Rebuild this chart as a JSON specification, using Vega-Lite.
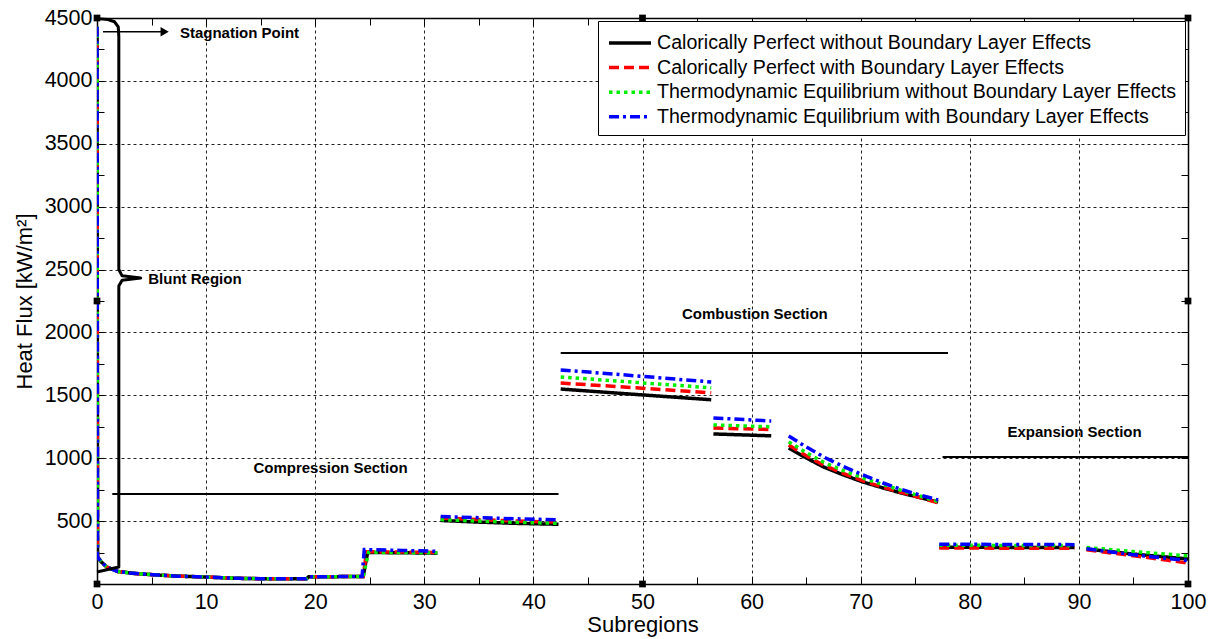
{
  "$schema": "https://vega.github.io/schema/vega-lite/v6.json",
  "width": 1091,
  "height": 566,
  "autosize": {"type": "none"},
  "padding": {"left": 97, "top": 18, "right": 27, "bottom": 55},
  "background": "white",
  "config": {
    "font": "Liberation Sans",
    "view": {"stroke": null},
    "axis": {
      "domainColor": "black",
      "domainWidth": 1.5,
      "tickColor": "black",
      "tickWidth": 1,
      "tickSize": -7,
      "labelColor": "black",
      "labelFontSize": 21.5,
      "labelFont": "Liberation Sans",
      "labelFlush": false,
      "labelOverlap": false,
      "titleColor": "black",
      "titleFontSize": 22,
      "titleFontWeight": "normal",
      "titleFont": "Liberation Sans",
      "gridColor": "#222222",
      "gridDash": [3, 3],
      "gridWidth": 1
    },
    "legend": {
      "title": null, "orient": "top-right", "offset": 3,
      "fillColor": "white", "strokeColor": "black", "padding": 8,
      "labelFontSize": 19.6, "labelFont": "Liberation Sans", "labelColor": "black",
      "labelLimit": 0, "labelOffset": 13,
      "symbolType": "M-1.75,0H1.75", "symbolSize": 576, "symbolStrokeWidth": 3.5,
      "symbolOffset": 10,
      "rowPadding": 0.6
    }
  },
  "datasets": {
    "flux": [
      {"series": "Calorically Perfect without Boundary Layer Effects", "seg": "A", "x": 0, "y": 4430},
      {"series": "Calorically Perfect without Boundary Layer Effects", "seg": "A", "x": 0.05, "y": 215},
      {"series": "Calorically Perfect without Boundary Layer Effects", "seg": "A", "x": 0.4, "y": 175},
      {"series": "Calorically Perfect without Boundary Layer Effects", "seg": "A", "x": 0.9, "y": 135},
      {"series": "Calorically Perfect without Boundary Layer Effects", "seg": "A", "x": 1.9, "y": 100},
      {"series": "Calorically Perfect without Boundary Layer Effects", "seg": "A", "x": 3, "y": 88},
      {"series": "Calorically Perfect without Boundary Layer Effects", "seg": "A", "x": 4, "y": 80},
      {"series": "Calorically Perfect without Boundary Layer Effects", "seg": "A", "x": 5.5, "y": 72},
      {"series": "Calorically Perfect without Boundary Layer Effects", "seg": "A", "x": 7, "y": 64},
      {"series": "Calorically Perfect without Boundary Layer Effects", "seg": "A", "x": 10, "y": 55},
      {"series": "Calorically Perfect without Boundary Layer Effects", "seg": "A", "x": 13, "y": 45},
      {"series": "Calorically Perfect without Boundary Layer Effects", "seg": "A", "x": 15, "y": 42},
      {"series": "Calorically Perfect without Boundary Layer Effects", "seg": "A", "x": 19.2, "y": 42},
      {"series": "Calorically Perfect without Boundary Layer Effects", "seg": "A", "x": 19.4, "y": 57},
      {"series": "Calorically Perfect without Boundary Layer Effects", "seg": "A", "x": 24.4, "y": 60},
      {"series": "Calorically Perfect without Boundary Layer Effects", "seg": "A", "x": 24.8, "y": 250},
      {"series": "Calorically Perfect without Boundary Layer Effects", "seg": "A", "x": 28, "y": 249},
      {"series": "Calorically Perfect without Boundary Layer Effects", "seg": "A", "x": 31.2, "y": 245},
      {"series": "Calorically Perfect without Boundary Layer Effects", "seg": "B", "x": 31.5, "y": 505},
      {"series": "Calorically Perfect without Boundary Layer Effects", "seg": "B", "x": 35, "y": 492},
      {"series": "Calorically Perfect without Boundary Layer Effects", "seg": "B", "x": 38.5, "y": 482},
      {"series": "Calorically Perfect without Boundary Layer Effects", "seg": "B", "x": 42.3, "y": 475},
      {"series": "Calorically Perfect without Boundary Layer Effects", "seg": "C", "x": 42.5, "y": 1550},
      {"series": "Calorically Perfect without Boundary Layer Effects", "seg": "C", "x": 49.4, "y": 1507},
      {"series": "Calorically Perfect without Boundary Layer Effects", "seg": "C", "x": 56.3, "y": 1465},
      {"series": "Calorically Perfect without Boundary Layer Effects", "seg": "D", "x": 56.5, "y": 1193},
      {"series": "Calorically Perfect without Boundary Layer Effects", "seg": "D", "x": 61.8, "y": 1178},
      {"series": "Calorically Perfect without Boundary Layer Effects", "seg": "E", "x": 63.4, "y": 1081},
      {"series": "Calorically Perfect without Boundary Layer Effects", "seg": "E", "x": 65, "y": 1003},
      {"series": "Calorically Perfect without Boundary Layer Effects", "seg": "E", "x": 66.6, "y": 930},
      {"series": "Calorically Perfect without Boundary Layer Effects", "seg": "E", "x": 68.4, "y": 868},
      {"series": "Calorically Perfect without Boundary Layer Effects", "seg": "E", "x": 70.2, "y": 811},
      {"series": "Calorically Perfect without Boundary Layer Effects", "seg": "E", "x": 72, "y": 765},
      {"series": "Calorically Perfect without Boundary Layer Effects", "seg": "E", "x": 73.7, "y": 724},
      {"series": "Calorically Perfect without Boundary Layer Effects", "seg": "E", "x": 75.4, "y": 688},
      {"series": "Calorically Perfect without Boundary Layer Effects", "seg": "E", "x": 77.1, "y": 652},
      {"series": "Calorically Perfect without Boundary Layer Effects", "seg": "F", "x": 77.2, "y": 292},
      {"series": "Calorically Perfect without Boundary Layer Effects", "seg": "F", "x": 89.6, "y": 290},
      {"series": "Calorically Perfect without Boundary Layer Effects", "seg": "G", "x": 90.7, "y": 278},
      {"series": "Calorically Perfect without Boundary Layer Effects", "seg": "G", "x": 95, "y": 238},
      {"series": "Calorically Perfect without Boundary Layer Effects", "seg": "G", "x": 100, "y": 199},

      {"series": "Calorically Perfect with Boundary Layer Effects", "seg": "A", "x": 0, "y": 4430},
      {"series": "Calorically Perfect with Boundary Layer Effects", "seg": "A", "x": 0.05, "y": 215},
      {"series": "Calorically Perfect with Boundary Layer Effects", "seg": "A", "x": 0.4, "y": 175},
      {"series": "Calorically Perfect with Boundary Layer Effects", "seg": "A", "x": 0.9, "y": 135},
      {"series": "Calorically Perfect with Boundary Layer Effects", "seg": "A", "x": 1.9, "y": 100},
      {"series": "Calorically Perfect with Boundary Layer Effects", "seg": "A", "x": 3, "y": 88},
      {"series": "Calorically Perfect with Boundary Layer Effects", "seg": "A", "x": 4, "y": 80},
      {"series": "Calorically Perfect with Boundary Layer Effects", "seg": "A", "x": 5.5, "y": 72},
      {"series": "Calorically Perfect with Boundary Layer Effects", "seg": "A", "x": 7, "y": 64},
      {"series": "Calorically Perfect with Boundary Layer Effects", "seg": "A", "x": 10, "y": 55},
      {"series": "Calorically Perfect with Boundary Layer Effects", "seg": "A", "x": 13, "y": 45},
      {"series": "Calorically Perfect with Boundary Layer Effects", "seg": "A", "x": 15, "y": 42},
      {"series": "Calorically Perfect with Boundary Layer Effects", "seg": "A", "x": 19.2, "y": 42},
      {"series": "Calorically Perfect with Boundary Layer Effects", "seg": "A", "x": 19.4, "y": 57},
      {"series": "Calorically Perfect with Boundary Layer Effects", "seg": "A", "x": 24.4, "y": 60},
      {"series": "Calorically Perfect with Boundary Layer Effects", "seg": "A", "x": 24.7, "y": 256},
      {"series": "Calorically Perfect with Boundary Layer Effects", "seg": "A", "x": 28, "y": 254},
      {"series": "Calorically Perfect with Boundary Layer Effects", "seg": "A", "x": 31.2, "y": 250},
      {"series": "Calorically Perfect with Boundary Layer Effects", "seg": "B", "x": 31.5, "y": 525},
      {"series": "Calorically Perfect with Boundary Layer Effects", "seg": "B", "x": 35, "y": 512},
      {"series": "Calorically Perfect with Boundary Layer Effects", "seg": "B", "x": 38.5, "y": 500},
      {"series": "Calorically Perfect with Boundary Layer Effects", "seg": "B", "x": 42.3, "y": 492},
      {"series": "Calorically Perfect with Boundary Layer Effects", "seg": "C", "x": 42.5, "y": 1598},
      {"series": "Calorically Perfect with Boundary Layer Effects", "seg": "C", "x": 49.4, "y": 1560},
      {"series": "Calorically Perfect with Boundary Layer Effects", "seg": "C", "x": 56.3, "y": 1520},
      {"series": "Calorically Perfect with Boundary Layer Effects", "seg": "D", "x": 56.5, "y": 1240},
      {"series": "Calorically Perfect with Boundary Layer Effects", "seg": "D", "x": 61.8, "y": 1228},
      {"series": "Calorically Perfect with Boundary Layer Effects", "seg": "E", "x": 63.4, "y": 1105},
      {"series": "Calorically Perfect with Boundary Layer Effects", "seg": "E", "x": 65, "y": 1020},
      {"series": "Calorically Perfect with Boundary Layer Effects", "seg": "E", "x": 66.6, "y": 945},
      {"series": "Calorically Perfect with Boundary Layer Effects", "seg": "E", "x": 68.4, "y": 880},
      {"series": "Calorically Perfect with Boundary Layer Effects", "seg": "E", "x": 70.2, "y": 820},
      {"series": "Calorically Perfect with Boundary Layer Effects", "seg": "E", "x": 72, "y": 770},
      {"series": "Calorically Perfect with Boundary Layer Effects", "seg": "E", "x": 73.7, "y": 728},
      {"series": "Calorically Perfect with Boundary Layer Effects", "seg": "E", "x": 75.4, "y": 688},
      {"series": "Calorically Perfect with Boundary Layer Effects", "seg": "E", "x": 77.1, "y": 646},
      {"series": "Calorically Perfect with Boundary Layer Effects", "seg": "F", "x": 77.2, "y": 286},
      {"series": "Calorically Perfect with Boundary Layer Effects", "seg": "F", "x": 89.6, "y": 284},
      {"series": "Calorically Perfect with Boundary Layer Effects", "seg": "G", "x": 90.7, "y": 272},
      {"series": "Calorically Perfect with Boundary Layer Effects", "seg": "G", "x": 95, "y": 225},
      {"series": "Calorically Perfect with Boundary Layer Effects", "seg": "G", "x": 100, "y": 167},

      {"series": "Thermodynamic Equilibrium without Boundary Layer Effects", "seg": "A", "x": 0, "y": 4430},
      {"series": "Thermodynamic Equilibrium without Boundary Layer Effects", "seg": "A", "x": 0.05, "y": 215},
      {"series": "Thermodynamic Equilibrium without Boundary Layer Effects", "seg": "A", "x": 0.4, "y": 175},
      {"series": "Thermodynamic Equilibrium without Boundary Layer Effects", "seg": "A", "x": 0.9, "y": 135},
      {"series": "Thermodynamic Equilibrium without Boundary Layer Effects", "seg": "A", "x": 1.9, "y": 100},
      {"series": "Thermodynamic Equilibrium without Boundary Layer Effects", "seg": "A", "x": 3, "y": 88},
      {"series": "Thermodynamic Equilibrium without Boundary Layer Effects", "seg": "A", "x": 4, "y": 80},
      {"series": "Thermodynamic Equilibrium without Boundary Layer Effects", "seg": "A", "x": 5.5, "y": 72},
      {"series": "Thermodynamic Equilibrium without Boundary Layer Effects", "seg": "A", "x": 7, "y": 64},
      {"series": "Thermodynamic Equilibrium without Boundary Layer Effects", "seg": "A", "x": 10, "y": 55},
      {"series": "Thermodynamic Equilibrium without Boundary Layer Effects", "seg": "A", "x": 13, "y": 45},
      {"series": "Thermodynamic Equilibrium without Boundary Layer Effects", "seg": "A", "x": 15, "y": 42},
      {"series": "Thermodynamic Equilibrium without Boundary Layer Effects", "seg": "A", "x": 19.2, "y": 42},
      {"series": "Thermodynamic Equilibrium without Boundary Layer Effects", "seg": "A", "x": 19.4, "y": 57},
      {"series": "Thermodynamic Equilibrium without Boundary Layer Effects", "seg": "A", "x": 24.4, "y": 60},
      {"series": "Thermodynamic Equilibrium without Boundary Layer Effects", "seg": "A", "x": 24.9, "y": 252},
      {"series": "Thermodynamic Equilibrium without Boundary Layer Effects", "seg": "A", "x": 28, "y": 250},
      {"series": "Thermodynamic Equilibrium without Boundary Layer Effects", "seg": "A", "x": 31.2, "y": 248},
      {"series": "Thermodynamic Equilibrium without Boundary Layer Effects", "seg": "B", "x": 31.5, "y": 512},
      {"series": "Thermodynamic Equilibrium without Boundary Layer Effects", "seg": "B", "x": 35, "y": 500},
      {"series": "Thermodynamic Equilibrium without Boundary Layer Effects", "seg": "B", "x": 38.5, "y": 490},
      {"series": "Thermodynamic Equilibrium without Boundary Layer Effects", "seg": "B", "x": 42.3, "y": 483},
      {"series": "Thermodynamic Equilibrium without Boundary Layer Effects", "seg": "C", "x": 42.5, "y": 1646},
      {"series": "Thermodynamic Equilibrium without Boundary Layer Effects", "seg": "C", "x": 49.4, "y": 1603},
      {"series": "Thermodynamic Equilibrium without Boundary Layer Effects", "seg": "C", "x": 56.3, "y": 1560},
      {"series": "Thermodynamic Equilibrium without Boundary Layer Effects", "seg": "D", "x": 56.5, "y": 1264},
      {"series": "Thermodynamic Equilibrium without Boundary Layer Effects", "seg": "D", "x": 61.8, "y": 1250},
      {"series": "Thermodynamic Equilibrium without Boundary Layer Effects", "seg": "E", "x": 63.4, "y": 1130},
      {"series": "Thermodynamic Equilibrium without Boundary Layer Effects", "seg": "E", "x": 65, "y": 1045},
      {"series": "Thermodynamic Equilibrium without Boundary Layer Effects", "seg": "E", "x": 66.6, "y": 968},
      {"series": "Thermodynamic Equilibrium without Boundary Layer Effects", "seg": "E", "x": 68.4, "y": 902},
      {"series": "Thermodynamic Equilibrium without Boundary Layer Effects", "seg": "E", "x": 70.2, "y": 843},
      {"series": "Thermodynamic Equilibrium without Boundary Layer Effects", "seg": "E", "x": 72, "y": 792},
      {"series": "Thermodynamic Equilibrium without Boundary Layer Effects", "seg": "E", "x": 73.7, "y": 745},
      {"series": "Thermodynamic Equilibrium without Boundary Layer Effects", "seg": "E", "x": 75.4, "y": 700},
      {"series": "Thermodynamic Equilibrium without Boundary Layer Effects", "seg": "E", "x": 77.1, "y": 655},
      {"series": "Thermodynamic Equilibrium without Boundary Layer Effects", "seg": "F", "x": 77.2, "y": 308},
      {"series": "Thermodynamic Equilibrium without Boundary Layer Effects", "seg": "F", "x": 89.6, "y": 305},
      {"series": "Thermodynamic Equilibrium without Boundary Layer Effects", "seg": "G", "x": 90.7, "y": 290},
      {"series": "Thermodynamic Equilibrium without Boundary Layer Effects", "seg": "G", "x": 95, "y": 258},
      {"series": "Thermodynamic Equilibrium without Boundary Layer Effects", "seg": "G", "x": 100, "y": 224},

      {"series": "Thermodynamic Equilibrium with Boundary Layer Effects", "seg": "A", "x": 0, "y": 4430},
      {"series": "Thermodynamic Equilibrium with Boundary Layer Effects", "seg": "A", "x": 0.05, "y": 215},
      {"series": "Thermodynamic Equilibrium with Boundary Layer Effects", "seg": "A", "x": 0.4, "y": 175},
      {"series": "Thermodynamic Equilibrium with Boundary Layer Effects", "seg": "A", "x": 0.9, "y": 135},
      {"series": "Thermodynamic Equilibrium with Boundary Layer Effects", "seg": "A", "x": 1.9, "y": 100},
      {"series": "Thermodynamic Equilibrium with Boundary Layer Effects", "seg": "A", "x": 3, "y": 88},
      {"series": "Thermodynamic Equilibrium with Boundary Layer Effects", "seg": "A", "x": 4, "y": 80},
      {"series": "Thermodynamic Equilibrium with Boundary Layer Effects", "seg": "A", "x": 5.5, "y": 72},
      {"series": "Thermodynamic Equilibrium with Boundary Layer Effects", "seg": "A", "x": 7, "y": 64},
      {"series": "Thermodynamic Equilibrium with Boundary Layer Effects", "seg": "A", "x": 10, "y": 55},
      {"series": "Thermodynamic Equilibrium with Boundary Layer Effects", "seg": "A", "x": 13, "y": 45},
      {"series": "Thermodynamic Equilibrium with Boundary Layer Effects", "seg": "A", "x": 15, "y": 42},
      {"series": "Thermodynamic Equilibrium with Boundary Layer Effects", "seg": "A", "x": 19.2, "y": 42},
      {"series": "Thermodynamic Equilibrium with Boundary Layer Effects", "seg": "A", "x": 19.4, "y": 57},
      {"series": "Thermodynamic Equilibrium with Boundary Layer Effects", "seg": "A", "x": 24.3, "y": 60},
      {"series": "Thermodynamic Equilibrium with Boundary Layer Effects", "seg": "A", "x": 24.5, "y": 274},
      {"series": "Thermodynamic Equilibrium with Boundary Layer Effects", "seg": "A", "x": 28, "y": 267},
      {"series": "Thermodynamic Equilibrium with Boundary Layer Effects", "seg": "A", "x": 31.2, "y": 260},
      {"series": "Thermodynamic Equilibrium with Boundary Layer Effects", "seg": "B", "x": 31.5, "y": 537},
      {"series": "Thermodynamic Equilibrium with Boundary Layer Effects", "seg": "B", "x": 35, "y": 527},
      {"series": "Thermodynamic Equilibrium with Boundary Layer Effects", "seg": "B", "x": 38.5, "y": 518},
      {"series": "Thermodynamic Equilibrium with Boundary Layer Effects", "seg": "B", "x": 42.3, "y": 510},
      {"series": "Thermodynamic Equilibrium with Boundary Layer Effects", "seg": "C", "x": 42.5, "y": 1702},
      {"series": "Thermodynamic Equilibrium with Boundary Layer Effects", "seg": "C", "x": 49.4, "y": 1655},
      {"series": "Thermodynamic Equilibrium with Boundary Layer Effects", "seg": "C", "x": 56.3, "y": 1606},
      {"series": "Thermodynamic Equilibrium with Boundary Layer Effects", "seg": "D", "x": 56.5, "y": 1320},
      {"series": "Thermodynamic Equilibrium with Boundary Layer Effects", "seg": "D", "x": 61.8, "y": 1296},
      {"series": "Thermodynamic Equilibrium with Boundary Layer Effects", "seg": "E", "x": 63.4, "y": 1177},
      {"series": "Thermodynamic Equilibrium with Boundary Layer Effects", "seg": "E", "x": 65, "y": 1090},
      {"series": "Thermodynamic Equilibrium with Boundary Layer Effects", "seg": "E", "x": 66.6, "y": 1010},
      {"series": "Thermodynamic Equilibrium with Boundary Layer Effects", "seg": "E", "x": 68.4, "y": 935},
      {"series": "Thermodynamic Equilibrium with Boundary Layer Effects", "seg": "E", "x": 70.2, "y": 867},
      {"series": "Thermodynamic Equilibrium with Boundary Layer Effects", "seg": "E", "x": 72, "y": 805},
      {"series": "Thermodynamic Equilibrium with Boundary Layer Effects", "seg": "E", "x": 73.7, "y": 752},
      {"series": "Thermodynamic Equilibrium with Boundary Layer Effects", "seg": "E", "x": 75.4, "y": 708},
      {"series": "Thermodynamic Equilibrium with Boundary Layer Effects", "seg": "E", "x": 77.1, "y": 668},
      {"series": "Thermodynamic Equilibrium with Boundary Layer Effects", "seg": "F", "x": 77.2, "y": 316},
      {"series": "Thermodynamic Equilibrium with Boundary Layer Effects", "seg": "F", "x": 89.6, "y": 313},
      {"series": "Thermodynamic Equilibrium with Boundary Layer Effects", "seg": "G", "x": 90.7, "y": 280},
      {"series": "Thermodynamic Equilibrium with Boundary Layer Effects", "seg": "G", "x": 95, "y": 232},
      {"series": "Thermodynamic Equilibrium with Boundary Layer Effects", "seg": "G", "x": 100, "y": 185}
    ],
    "brace": [
      {"o": 1, "x": 0, "y": 4495},
      {"o": 2, "x": 1.0, "y": 4488},
      {"o": 3, "x": 1.6, "y": 4470},
      {"o": 4, "x": 1.95, "y": 4430},
      {"o": 5, "x": 2.0, "y": 4350},
      {"o": 6, "x": 2.0, "y": 2500},
      {"o": 7, "x": 2.3, "y": 2450},
      {"o": 8, "x": 4.0, "y": 2433},
      {"o": 9, "x": 2.3, "y": 2415},
      {"o": 10, "x": 2.0, "y": 2370},
      {"o": 11, "x": 2.0, "y": 135},
      {"o": 12, "x": 0, "y": 95}
    ],
    "sections": [
      {"x1": 1.4, "x2": 42.3, "y": 716},
      {"x1": 42.5, "x2": 78.0, "y": 1837},
      {"x1": 77.5, "x2": 100, "y": 1010}
    ],
    "arrow": [
      {"x1": 0.55, "x2": 6.0, "y": 4390}
    ],
    "arrowhead": [
      {"x": 6.2, "y": 4390}
    ],
    "leftLabels": [
      {"x": 7.6, "y": 4378, "label": "Stagnation Point"},
      {"x": 4.7, "y": 2425, "label": "Blunt Region"}
    ],
    "centerLabels": [
      {"x": 21.4, "y": 922, "label": "Compression Section"},
      {"x": 60.3, "y": 2147, "label": "Combustion Section"},
      {"x": 89.6, "y": 1209, "label": "Expansion Section"}
    ],
    "handles": [
      {"x": 0, "y": 4500}, {"x": 50, "y": 4500}, {"x": 100, "y": 4500},
      {"x": 0, "y": 2250}, {"x": 100, "y": 2250},
      {"x": 0, "y": 0}, {"x": 50, "y": 0}, {"x": 100, "y": 0}
    ]
  },
  "layer": [
    {
      "data": {"name": "flux"},
      "encoding": {
        "x": {
          "field": "x", "type": "quantitative",
          "scale": {"domain": [0, 100], "nice": false, "zero": false},
          "axis": {
            "orient": "bottom",
            "title": "Subregions",
            "values": [0,5,10,15,20,25,30,35,40,45,50,55,60,65,70,75,80,85,90,95,100],
            "labelExpr": "datum.value % 10 === 0 ? datum.label : ''",
            "labelPadding": 14,
            "titlePadding": 2,
            "grid": true,
            "gridOpacity": {"condition": {"test": "datum.value % 10 === 0 && datum.value > 0 && datum.value < 100", "value": 1}, "value": 0}
          }
        },
        "y": {
          "field": "y", "type": "quantitative",
          "scale": {"domain": [0, 4500], "nice": false},
          "axis": {
            "orient": "left",
            "title": "Heat Flux [kW/m²]",
            "format": "d",
            "values": [0,250,500,750,1000,1250,1500,1750,2000,2250,2500,2750,3000,3250,3500,3750,4000,4250,4500],
            "labelExpr": "datum.value % 500 === 0 && datum.value > 0 ? datum.label : ''",
            "labelPadding": 12,
            "titlePadding": 8,
            "grid": true,
            "gridOpacity": {"condition": {"test": "datum.value % 500 === 0 && datum.value > 0 && datum.value < 4500", "value": 1}, "value": 0}
          }
        },
        "color": {
          "field": "series", "type": "nominal",
          "scale": {
            "domain": ["Calorically Perfect without Boundary Layer Effects", "Calorically Perfect with Boundary Layer Effects", "Thermodynamic Equilibrium without Boundary Layer Effects", "Thermodynamic Equilibrium with Boundary Layer Effects"],
            "range": ["#000000", "#ff0000", "#00ee00", "#0000ff"]
          }
        },
        "strokeDash": {
          "field": "series", "type": "nominal",
          "scale": {
            "domain": ["Calorically Perfect without Boundary Layer Effects", "Calorically Perfect with Boundary Layer Effects", "Thermodynamic Equilibrium without Boundary Layer Effects", "Thermodynamic Equilibrium with Boundary Layer Effects"],
            "range": [[1, 0], [10, 5], [3.5, 4], [10, 4, 3, 4]]
          }
        },
        "detail": {"field": "seg", "type": "nominal"}
      },
      "layer": [
        {"transform": [{"filter": "datum.series === 'Calorically Perfect without Boundary Layer Effects'"}], "mark": {"type": "line", "strokeWidth": 3.5, "clip": true}},
        {"transform": [{"filter": "datum.series === 'Calorically Perfect with Boundary Layer Effects'"}], "mark": {"type": "line", "strokeWidth": 3.5, "clip": true}},
        {"transform": [{"filter": "datum.series === 'Thermodynamic Equilibrium without Boundary Layer Effects'"}], "mark": {"type": "line", "strokeWidth": 3.5, "clip": true}},
        {"transform": [{"filter": "datum.series === 'Thermodynamic Equilibrium with Boundary Layer Effects'"}], "mark": {"type": "line", "strokeWidth": 3.5, "clip": true}}
      ]
    },
    {
      "data": {"name": "handles"},
      "mark": {"type": "square", "size": 45, "color": "black", "opacity": 1, "clip": false},
      "encoding": {
        "x": {
          "field": "x", "type": "quantitative",
          "scale": {"domain": [0, 100], "nice": false, "zero": false},
          "axis": {
            "orient": "top", "title": null, "labels": false, "grid": false,
            "values": [0,5,10,15,20,25,30,35,40,45,50,55,60,65,70,75,80,85,90,95,100]
          }
        },
        "y": {
          "field": "y", "type": "quantitative",
          "scale": {"domain": [0, 4500], "nice": false},
          "axis": {
            "orient": "right", "title": null, "labels": false, "grid": false,
            "values": [0,250,500,750,1000,1250,1500,1750,2000,2250,2500,2750,3000,3250,3500,3750,4000,4250,4500]
          }
        }
      }
    },
    {
      "data": {"name": "sections"},
      "mark": {"type": "rule", "color": "black", "strokeWidth": 2},
      "encoding": {
        "x": {"field": "x1", "type": "quantitative", "axis": null, "scale": {"domain": [0, 100], "nice": false, "zero": false}},
        "x2": {"field": "x2"},
        "y": {"field": "y", "type": "quantitative", "axis": null, "scale": {"domain": [0, 4500], "nice": false}}
      }
    },
    {
      "data": {"name": "arrow"},
      "mark": {"type": "rule", "color": "black", "strokeWidth": 1.5},
      "encoding": {
        "x": {"field": "x1", "type": "quantitative", "axis": null, "scale": {"domain": [0, 100], "nice": false, "zero": false}},
        "x2": {"field": "x2"},
        "y": {"field": "y", "type": "quantitative", "axis": null, "scale": {"domain": [0, 4500], "nice": false}}
      }
    },
    {
      "data": {"name": "arrowhead"},
      "mark": {"type": "point", "shape": "triangle-right", "filled": true, "color": "black", "opacity": 1, "size": 90},
      "encoding": {
        "x": {"field": "x", "type": "quantitative", "axis": null, "scale": {"domain": [0, 100], "nice": false, "zero": false}},
        "y": {"field": "y", "type": "quantitative", "axis": null, "scale": {"domain": [0, 4500], "nice": false}}
      }
    },
    {
      "data": {"name": "brace"},
      "mark": {"type": "line", "color": "black", "strokeWidth": 3, "strokeJoin": "round"},
      "encoding": {
        "x": {"field": "x", "type": "quantitative", "axis": null, "scale": {"domain": [0, 100], "nice": false, "zero": false}},
        "y": {"field": "y", "type": "quantitative", "axis": null, "scale": {"domain": [0, 4500], "nice": false}},
        "order": {"field": "o", "type": "quantitative"}
      }
    },
    {
      "data": {"name": "leftLabels"},
      "mark": {"type": "text", "align": "left", "baseline": "middle", "font": "Liberation Sans", "fontWeight": "bold", "fontSize": 15, "color": "black"},
      "encoding": {
        "x": {"field": "x", "type": "quantitative", "axis": null, "scale": {"domain": [0, 100], "nice": false, "zero": false}},
        "y": {"field": "y", "type": "quantitative", "axis": null, "scale": {"domain": [0, 4500], "nice": false}},
        "text": {"field": "label"}
      }
    },
    {
      "data": {"name": "centerLabels"},
      "mark": {"type": "text", "align": "center", "baseline": "middle", "font": "Liberation Sans", "fontWeight": "bold", "fontSize": 15, "color": "black"},
      "encoding": {
        "x": {"field": "x", "type": "quantitative", "axis": null, "scale": {"domain": [0, 100], "nice": false, "zero": false}},
        "y": {"field": "y", "type": "quantitative", "axis": null, "scale": {"domain": [0, 4500], "nice": false}},
        "text": {"field": "label"}
      }
    }
  ],
  "resolve": {"axis": {"x": "independent", "y": "independent"}}
}
